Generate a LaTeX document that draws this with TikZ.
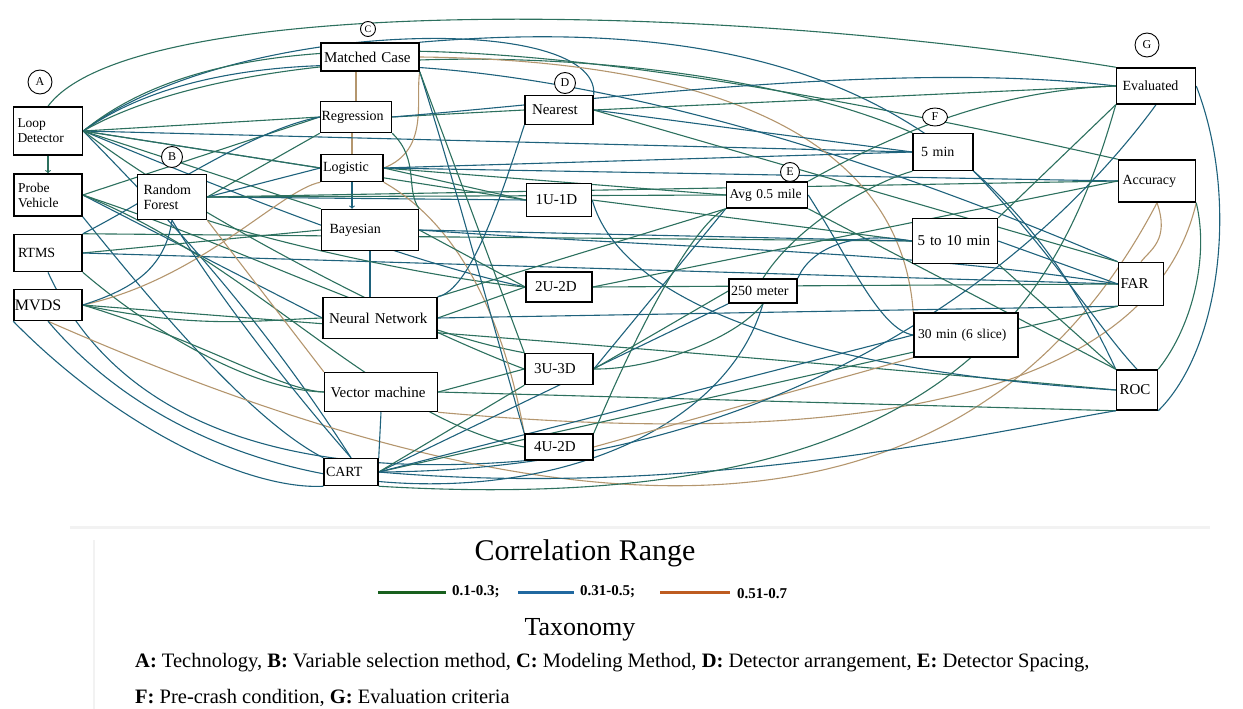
\documentclass[tikz,border=0pt]{standalone}
\usepackage{fontspec}
\setmainfont{Liberation Serif}
\usetikzlibrary{backgrounds,shapes.geometric}

\definecolor{lowc}{RGB}{44,112,94}
\definecolor{midc}{RGB}{30,98,124}
\definecolor{highc}{RGB}{180,150,110}
\definecolor{legg}{RGB}{24,96,30}
\definecolor{legb}{RGB}{32,104,160}
\definecolor{lego}{RGB}{190,92,32}

\tikzset{
  box/.style={draw, line width=1.5pt, fill=white, inner xsep=4pt, inner ysep=2pt,
    align=left, font=\fontsize{14}{15}\selectfont},
  tag/.style={draw, circle, line width=0.9pt, inner sep=0pt, fill=white,
    font=\fontsize{12}{12}\selectfont},
  lowcor/.style={draw=lowc, line width=1.1pt},
  midcor/.style={draw=midc, line width=1.1pt},
  highcor/.style={draw=highc, line width=1.1pt},
}

\begin{document}
\begin{tikzpicture}[x=1pt,y=-1pt]
   \useasboundingbox (0,0) rectangle (1243,709);

   % A: technology
   \path (48,131) node[box,text width=61pt,minimum height=48pt,font=\fontsize{13.5}{15}\selectfont] (LD) {Loop\\Detector};
   \path (48,195) node[box,text width=60pt,minimum height=42pt,font=\fontsize{13.5}{15}\selectfont] (PV) {Probe\\Vehicle};
   \path (48,253) node[box,text width=60pt,minimum height=37pt] (RTMS) {RTMS};
   \path (48,305) node[box,inner xsep=1pt,text width=66pt,minimum height=31pt,font=\fontsize{16}{17}\selectfont] (MVDS) {MVDS};
   \path (40,82) node[tag,minimum size=24pt] (An) {A};

   % B: variable selection
   \path (172,197) node[box,inner xsep=6pt,text width=57pt,minimum height=45pt] (RF) {Random\\Forest};
   \path (172,157) node[tag,minimum size=21pt] (Bn) {B};

   % C: modeling method
   \path (370,57) node[box,inner xsep=3pt,text width=92pt,minimum height=28pt,font=\fontsize{15}{16}\selectfont] (MC) {Matched Case};
   \path (356,117) node[box,inner xsep=1pt,text width=69pt,minimum height=31pt] (Reg) {Regression};
   \path (352,168) node[box,inner xsep=2pt,text width=58pt,minimum height=27pt] (Logit) {Logistic};
   \path (370,230) node[box,inner xsep=8pt,text width=81pt,minimum height=41pt] (Bayes) {Bayesian};
   \path (380,318) node[box,inner xsep=6pt,text width=102pt,minimum height=41pt,font=\fontsize{15}{16}\selectfont] (NN) {Neural Network};
   \path (381,392) node[box,inner xsep=6pt,text width=101pt,minimum height=39pt,font=\fontsize{15}{16}\selectfont] (VM) {Vector machine};
   \path (351,472) node[box,inner xsep=2pt,text width=50pt,minimum height=27pt] (CART) {CART};
   \path (368,29) node[tag,minimum size=15pt,font=\fontsize{10}{10}\selectfont] (Cn) {C};

   % D: detector arrangement
   \path (559,110) node[box,inner xsep=7pt,text width=54pt,minimum height=29pt,font=\fontsize{15}{16}\selectfont] (Near) {Nearest};
   \path (559,200) node[box,inner xsep=9pt,text width=47pt,minimum height=33pt,font=\fontsize{15}{16}\selectfont] (U1D1) {1U-1D};
   \path (559,287) node[box,inner xsep=9pt,text width=48pt,minimum height=30pt,font=\fontsize{15}{16}\selectfont] (U2D2) {2U-2D};
   \path (559,369) node[box,inner xsep=9pt,text width=50pt,minimum height=31pt,font=\fontsize{15}{16}\selectfont] (U3D3) {3U-3D};
   \path (559,447) node[box,inner xsep=9pt,text width=50pt,minimum height=26pt,font=\fontsize{15}{16}\selectfont] (U4D2) {4U-2D};
   \path (565,83) node[tag,minimum size=21pt] (Dn) {D};

   % E: detector spacing
   \path (767,195) node[box,inner xsep=3pt,text width=75pt,minimum height=26pt,font=\fontsize{13.5}{15}\selectfont] (Avg) {Avg 0.5 mile};
   \path (763,291) node[box,inner xsep=2pt,text width=64pt,minimum height=24pt] (M250) {250 meter};
   \path (790,172) node[tag,minimum size=19pt] (En) {E};

   % F: pre-crash condition
   \path (943,152) node[box,inner xsep=8pt,text width=44pt,minimum height=37pt] (Min5) {5 min};
   \path (955,241) node[box,inner xsep=5pt,text width=75pt,minimum height=45pt,font=\fontsize{15}{16}\selectfont] (Min510) {5 to 10 min};
   \path (966,335) node[box,inner xsep=4pt,text width=96pt,minimum height=44pt,font=\fontsize{13.5}{15}\selectfont] (Min30) {30 min (6 slice)};
   \path (935,117) node[draw,ellipse,line width=0.9pt,inner sep=0pt,minimum width=25pt,minimum height=18pt,fill=white,font=\fontsize{12}{12}\selectfont] (Fn) {F};

   % G: evaluation criteria
   \path (1156,86) node[box,inner xsep=6pt,text width=67pt,minimum height=36pt] (Eval) {Evaluated};
   \path (1157,181) node[box,inner xsep=4pt,text width=69pt,minimum height=42pt] (Acc) {Accuracy};
   \path (1141,284) node[box,inner xsep=2pt,text width=41pt,minimum height=43pt,font=\fontsize{15}{16}\selectfont] (FAR) {FAR};
   \path (1137,390) node[box,inner xsep=3pt,text width=35pt,minimum height=40pt,font=\fontsize{15}{16}\selectfont] (ROC) {ROC};
   \path (1147,45) node[tag,minimum size=24pt] (Gn) {G};

   \begin{scope}[on background layer]
   % inside the groups
   \draw[lowcor,->] (LD.south) -- (PV.north);
   \draw[highcor] (Reg.north |- MC.south) -- (Reg.north);
   \draw[highcor] (Logit.north |- Reg.south) -- (Logit.north);
   \draw[midcor,->] (Logit.south) -- (Bayes.north -| Logit.south);
   \draw[midcor] (Bayes.south) -- (NN.north -| Bayes.south);

   % from technology
   \draw[lowcor] (LD.north) .. controls (130,-5) and (700,0) .. (Eval.north west);
   \draw[midcor] (LD.east) .. controls (230,20) and (600,10) .. (Near.north east);
   \draw[lowcor] (LD.east) .. controls (220,20) and (500,20) .. (Acc.north west);
   \draw[midcor] (LD.east) .. controls (240,20) and (600,40) .. (FAR.north west);
   \draw[lowcor] (LD.east) .. controls (260,30) and (700,40) .. (Min5.north west);
   \draw[lowcor] (LD.east) -- (Reg.west);
   \draw[midcor] (LD.east) -- (Logit.west);
   \draw[midcor] (LD.east) -- (Min5.west);
   \draw[lowcor] (LD.east) -- (U1D1.west);
   \draw[midcor] (LD.east) .. controls (250,200) and (400,260) .. (U2D2.west);
   \draw[lowcor] (LD.east) -- (Bayes.north west);
   \draw[midcor] (LD.east) .. controls (150,200) and (250,300) .. (CART.north);
   \draw[lowcor] (LD.east) .. controls (200,220) and (420,330) .. (U3D3.west);
   \draw[lowcor] (PV.east) -- (Reg.west);
   \draw[midcor] (PV.east) -- (NN.west);
   \draw[lowcor] (PV.east) .. controls (250,250) and (400,330) .. (U3D3.north west);
   \draw[midcor] (PV.south east) .. controls (150,300) and (250,420) .. (CART.north west);
   \draw[lowcor] (PV.east) .. controls (250,260) and (380,420) .. (U4D2.west);
   \draw[lowcor] (RTMS.east) -- (Bayes.west);
   \draw[midcor] (RTMS.east) -- (FAR.west);
   \draw[lowcor] (RTMS.north east) -- (Min510.west);
   \draw[midcor] (RTMS.north east) .. controls (150,200) and (250,130) .. (Reg.west);
   \draw[lowcor] (RTMS.south east) .. controls (150,330) and (250,390) .. (VM.west);
   \draw[midcor] (RTMS.south) .. controls (120,430) and (300,480) .. (U4D2.south west);
   \draw[highcor] (MVDS.east) .. controls (200,280) and (280,190) .. (Logit.south west);
   \draw[lowcor] (MVDS.east) .. controls (200,330) and (260,320) .. (NN.west);
   \draw[highcor] (MVDS.south) .. controls (500,520) and (950,600) .. (Acc.south);
   \draw[midcor] (MVDS.south) .. controls (250,560) and (700,520) .. (M250.south);
   \draw[lowcor] (MVDS.east) .. controls (400,330) and (800,360) .. (ROC.west);
   \draw[midcor] (MVDS.south west) .. controls (120,430) and (250,490) .. (CART.south west);
   \draw[lowcor] (MVDS.east) .. controls (200,340) and (280,390) .. (VM.west);

   % from variable selection
   \draw[midcor] (RF.south) .. controls (165,270) and (130,290) .. (MVDS.east);
   \draw[lowcor] (RF.east) -- (Reg.south west);
   \draw[midcor] (RF.east) -- (Logit.west);
   \draw[lowcor] (RF.east) -- (Acc.west);
   \draw[midcor] (RF.east) -- (U1D1.west);
   \draw[lowcor] (RF.south east) .. controls (300,250) and (450,280) .. (U2D2.west);
   \draw[highcor] (RF.south east) -- (VM.north west);
   \draw[midcor] (RF.south) .. controls (220,300) and (300,400) .. (CART.north);
   \draw[lowcor] (RF.east) -- (Avg.west);

   % from modeling method
   \draw[highcor] (MC.south east) .. controls (415,100) and (430,150) .. (Logit.east);
   \draw[highcor] (Logit.south east) .. controls (450,220) and (500,300) .. (U4D2.north west);
   \draw[highcor] (MC.east) .. controls (700,60) and (900,130) .. (Min30.north west);
   \draw[midcor] (MC.south east) .. controls (460,200) and (500,350) .. (U4D2.north west);
   \draw[lowcor] (MC.south east) -- (U3D3.north west);
   \draw[midcor] (MC.north east) .. controls (800,10) and (1000,120) .. (ROC.north west);
   \draw[lowcor] (Reg.east) -- (Near.west);
   \draw[midcor] (Reg.east) .. controls (600,100) and (900,60) .. (Eval.west);
   \draw[lowcor] (Reg.south east) .. controls (420,160) and (405,190) .. (Bayes.north east);
   \draw[lowcor] (Logit.east) -- (Avg.west);
   \draw[midcor] (Logit.east) -- (Acc.west);
   \draw[lowcor] (Logit.east) -- (U1D1.west);
   \draw[midcor] (Logit.east) -- (Min5.west);
   \draw[midcor] (Bayes.east) -- (Min510.west);
   \draw[lowcor] (Bayes.east) -- (U2D2.west);
   \draw[midcor] (Bayes.east) .. controls (700,250) and (900,250) .. (FAR.west);
   \draw[lowcor] (NN.east) -- (U2D2.west);
   \draw[midcor] (NN.east) -- (FAR.south west);
   \draw[lowcor] (NN.north east) -- (Avg.south west);
   \draw[lowcor] (VM.east) -- (U3D3.west);
   \draw[highcor] (VM.south east) .. controls (850,450) and (1150,400) .. (Acc.south east);
   \draw[midcor] (VM.south) -- (CART.north east);
   \draw[lowcor] (VM.east) -- (ROC.south west);
   \draw[midcor] (CART.east) -- (M250.south west);
   \draw[lowcor] (CART.east) -- (U3D3.south west);
   \draw[midcor] (CART.east) .. controls (700,500) and (1000,430) .. (ROC.south west);
   \draw[lowcor] (CART.east) -- (FAR.south west);
   \draw[midcor] (CART.east) -- (Min30.west);

   % from detector arrangement
   \draw[midcor] (Near.south west) .. controls (500,200) and (470,290) .. (NN.north east);
   \draw[lowcor] (Near.east) -- (Eval.west);
   \draw[midcor] (Near.east) -- (Min5.west);
   \draw[lowcor] (Near.east) -- (FAR.north west);
   \draw[midcor] (U1D1.east) .. controls (620,300) and (800,370) .. (ROC.west);
   \draw[lowcor] (U1D1.east) -- (Min510.west);
   \draw[lowcor] (U2D2.east) -- (FAR.west);
   \draw[lowcor] (U2D2.east) -- (Acc.west);
   \draw[midcor] (U3D3.east) -- (Avg.south west);
   \draw[lowcor] (U3D3.east) -- (M250.west);
   \draw[lowcor] (U4D2.north east) .. controls (650,300) and (700,220) .. (Avg.south west);
   \draw[highcor] (U4D2.east) -- (Min30.south west);

   % from detector spacing and pre-crash condition
   \draw[midcor] (Avg.east) .. controls (850,260) and (880,330) .. (Min30.west);
   \draw[lowcor] (Avg.south east) -- (ROC.north west);
   \draw[lowcor] (Avg.north east) .. controls (900,130) and (1000,90) .. (Eval.west);
   \draw[lowcor] (M250.north) .. controls (800,220) and (880,180) .. (Min5.south west);
   \draw[midcor] (M250.north east) .. controls (810,250) and (850,230) .. (Min510.west);
   \draw[lowcor] (M250.south) .. controls (735,340) and (650,370) .. (U3D3.east);
   \draw[midcor] (Min5.south east) .. controls (1050,250) and (1100,330) .. (ROC.north);
   \draw[lowcor] (Min510.north east) -- (Eval.south west);
   \draw[midcor] (Min510.east) -- (FAR.west);
   \draw[lowcor] (Min510.south east) -- (ROC.north west);

   % evaluation criteria
   \draw[midcor] (Eval.east) .. controls (1240,200) and (1220,350) .. (ROC.south east);
   \draw[lowcor] (Acc.south east) .. controls (1210,260) and (1190,330) .. (ROC.north east);
   \draw[highcor] (Acc.south) .. controls (1170,240) and (1150,250) .. (FAR.north);
   \draw[midcor] (Eval.south) .. controls (1050,250) and (800,470) .. (CART.east);
   \draw[lowcor] (Eval.south west) .. controls (1060,300) and (950,520) .. (CART.south east);
   \end{scope}

   % page edge left over from the scan
   \draw[gray!10,line width=3pt] (70,527) -- (1210,527);
   \draw[gray!10,line width=2pt] (94,540) -- (94,709);

   \path (585,553) node[font=\fontsize{30}{32}\selectfont] (Title) {Correlation Range};
   \draw[legg,line width=3pt] (378,592) -- (446,592);
   \path (452,592) node[anchor=west,inner sep=0pt,font=\bfseries\fontsize{15}{16}\selectfont] (Low) {0.1-0.3;};
   \draw[legb,line width=3pt] (518,592) -- (574,592);
   \path (580,592) node[anchor=west,inner sep=0pt,font=\bfseries\fontsize{15}{16}\selectfont] (Mid) {0.31-0.5;};
   \draw[lego,line width=3pt] (660,592) -- (730,592);
   \path (737,594) node[anchor=west,inner sep=0pt,font=\bfseries\fontsize{15}{16}\selectfont] (High) {0.51-0.7};

   \path (580,630) node[font=\fontsize{26}{28}\selectfont] (Tax) {Taxonomy};
   \path (135,663) node[anchor=west,inner sep=0pt,font=\fontsize{20.5}{22}\selectfont] (TaxA)
     {\textbf{A:} Technology, \textbf{B:} Variable selection method, \textbf{C:} Modeling Method, \textbf{D:} Detector arrangement, \textbf{E:} Detector Spacing,};
   \path (135,698) node[anchor=west,inner sep=0pt,font=\fontsize{20.5}{22}\selectfont] (TaxF)
     {\textbf{F:} Pre-crash condition, \textbf{G:} Evaluation criteria};
\end{tikzpicture}
\end{document}
